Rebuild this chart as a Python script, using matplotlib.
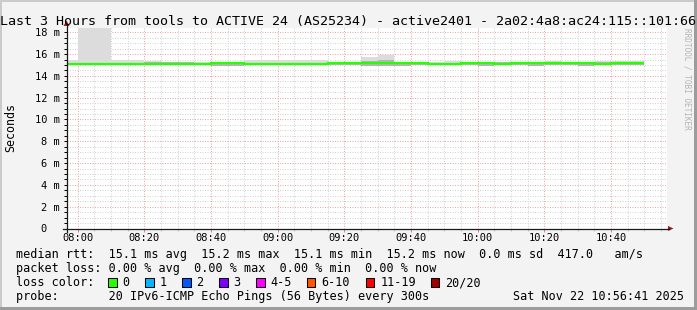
import matplotlib
matplotlib.use("Agg")
import matplotlib.pyplot as plt
from matplotlib.patches import Rectangle, Polygon
from matplotlib.lines import Line2D
import numpy as np

# ---------------- data ----------------
title = "Last 3 Hours from tools to ACTIVE 24 (AS25234) - active2401 - 2a02:4a8:ac24:115::101:66"
watermark = "RRDTOOL / TOBI OETIKER"
y_label = "Seconds"

window_start_min = 7 * 60 + 56 + 41 / 60   # 07:56:41
window_end_min = 10 * 60 + 56 + 41 / 60    # 10:56:41
first_step_start_min = 7 * 60 + 55         # 07:55
step_min = 5

median_ms = [15.07, 15.07, 15.07, 15.07, 15.07, 15.07, 15.07, 15.07, 15.07,
             15.16, 15.16,
             15.07, 15.07, 15.07, 15.07, 15.07,
             15.16, 15.16, 15.16, 15.16, 15.16, 15.16,
             15.07, 15.07,
             15.16, 15.16,
             15.10,
             15.16, 15.16, 15.16, 15.16, 15.16,
             15.07,
             15.16, 15.16]
smoke_lo_ms = [14.98, 14.98, 14.98, 14.98, 14.98, 14.98, 14.98, 14.98, 14.98,
               14.92, 14.92,
               14.98, 14.98, 14.98, 14.98, 14.98,
               14.98, 14.98, 14.92, 14.92, 14.92, 14.98,
               14.98, 14.98,
               14.98, 14.94,
               14.96,
               14.98, 14.94, 14.98, 14.98, 14.94,
               14.98,
               14.98, 14.98]
smoke_hi_ms = [15.50, 18.60, 18.60, 15.45, 15.45, 15.35, 15.30, 15.30, 15.28,
               15.25, 15.25,
               15.45, 15.45, 15.45, 15.47, 15.47,
               15.22, 15.22, 15.72, 15.93, 15.30, 15.22,
               15.25, 15.35,
               15.22, 15.22,
               15.32,
               15.22, 15.22, 15.38, 15.22, 15.22,
               15.38,
               15.35, 15.35]
smoke_core_ms = [15.15, 15.15, 15.15, 15.15, 15.15, 15.26, 15.26, 15.26, 15.15,
                 15.22, 15.22,
                 15.15, 15.15, 15.15, 15.15, 15.15,
                 15.22, 15.22, 15.40, 15.42, 15.22, 15.22,
                 15.15, 15.15,
                 15.22, 15.22,
                 15.30,
                 15.22, 15.22, 15.22, 15.22, 15.22,
                 15.25,
                 15.22, 15.22]

x_tick_minutes = [480, 500, 520, 540, 560, 580, 600, 620, 640]
x_tick_labels = ["08:00", "08:20", "08:40", "09:00", "09:20", "09:40", "10:00", "10:20", "10:40"]
y_tick_values = [2, 4, 6, 8, 10, 12, 14, 16, 18]
y_tick_labels = ["2 m", "4 m", "6 m", "8 m", "10 m", "12 m", "14 m", "16 m", "18 m"]
y_max_ms = 18.44

stat_rows = [
    "median rtt:  15.1 ms avg  15.2 ms max  15.1 ms min  15.2 ms now  0.0 ms sd  417.0   am/s",
    "packet loss: 0.00 % avg  0.00 % max  0.00 % min  0.00 % now",
    "loss color:",
    "probe:       20 IPv6-ICMP Echo Pings (56 Bytes) every 300s",
]
loss_labels = ["0", "1", "2", "3", "4-5", "6-10", "11-19", "20/20"]
loss_colors = ["#26ff00", "#00b8ff", "#0059ff", "#7e00ff", "#ff00ff", "#ff5500", "#ff0000", "#a00000"]
date_text = "Sat Nov 22 10:56:41 2025"

# ---------------- layout helpers ----------------
W, H = 697, 310
MONO = "DejaVu Sans Mono"


def fx(px):
    return px / W


def fy(py):
    return 1 - py / H


fig = plt.figure(figsize=(W / 100, H / 100), dpi=100, facecolor="#f3f3f3")

ax_left, ax_right, ax_top, ax_bottom = 66.5, 666.5, 27.5, 228.5
ax = fig.add_axes([fx(ax_left), fy(ax_bottom), fx(ax_right - ax_left), (ax_bottom - ax_top) / H])
ax.set_facecolor("white")
for s in ax.spines.values():
    s.set_visible(False)

edges = first_step_start_min + step_min * np.arange(len(median_ms) + 1)

ax.stairs(smoke_hi_ms, edges, baseline=smoke_lo_ms, fill=True, color="#dcdcdc", lw=0, zorder=2)
ax.stairs(smoke_core_ms, edges, baseline=smoke_lo_ms, fill=True, color="#b4b4b4", lw=0, zorder=2.1)
ax.stairs(median_ms, edges, baseline=None, color="#26ff00", lw=1.6, zorder=3)

ax.set_xlim(window_start_min, window_end_min)
ax.set_ylim(0, y_max_ms)

# grid
ax.set_xticks(x_tick_minutes)
ax.set_xticklabels(x_tick_labels, family=MONO, fontsize=7.5)
ax.set_xticks(np.arange(485, 660, 5), minor=True)
ax.set_yticks(y_tick_values)
ax.set_yticklabels(y_tick_labels, family=MONO, fontsize=7.5)
ax.set_yticks(np.arange(0.5, 18.5, 0.5), minor=True)

dot = (0, (1, 1.5))
ax.grid(which="minor", color="#d2d2d2", ls=dot, lw=0.72, zorder=1)
ax.grid(which="major", color="#eda6a6", ls=dot, lw=0.72, zorder=1.1)
ax.set_axisbelow(True)

ax.tick_params(axis="y", which="both", direction="out", length=2.2, width=0.72, color="black", pad=2.5)
ax.tick_params(axis="x", which="major", direction="out", length=2.2, width=0.72, color="#e08080", pad=1.2)
ax.tick_params(axis="x", which="minor", direction="out", length=1.5, width=0.72, color="#c4c4c4")

ax.annotate("0", xy=(0, 0), xycoords=("axes fraction", "data"), xytext=(-14, 0),
            textcoords="offset points", ha="right", va="center", family=MONO, fontsize=7.5,
            annotation_clip=False)

# axes lines and arrows (figure pixel space)
axis_col = "#1a1a1a"
arrow_col = "#9b1c1c"
fig.add_artist(Line2D([fx(66.5), fx(66.5)], [fy(231.5), fy(25)], color=axis_col, lw=0.9))
fig.add_artist(Line2D([fx(63), fx(669)], [fy(228.5), fy(228.5)], color=axis_col, lw=0.9))
fig.add_artist(Polygon([(fx(63.5), fy(26)), (fx(69.5), fy(26)), (fx(66.5), fy(20.5))],
                       closed=True, color=arrow_col, lw=0))
fig.add_artist(Polygon([(fx(668), fy(226)), (fx(668), fy(231)), (fx(673.5), fy(228.5))],
                       closed=True, color=arrow_col, lw=0))

# frame shading
fig.add_artist(Rectangle((0, fy(2)), 1, 2 / H, transform=fig.transFigure, color="#cbcbcb", lw=0))
fig.add_artist(Rectangle((0, 0), 2 / W, 1, transform=fig.transFigure, color="#cbcbcb", lw=0))
fig.add_artist(Rectangle((0, 0), 1, 3 / H, transform=fig.transFigure, color="#9c9c9c", lw=0))
fig.add_artist(Rectangle((fx(694), 0), 3 / W, 1, transform=fig.transFigure, color="#9c9c9c", lw=0))

# watermark (kept just below the title), title, y label
fig.text(fx(687), fy(28), watermark, rotation=270, ha="center", va="top",
         family=MONO, fontsize=5.6, color="#b4b4b4")
fig.text(fx(348.5), fy(24.5), title, ha="center", va="baseline", family=MONO, fontsize=9.6, color="black")
fig.text(fx(10.7), fy(127.5), y_label, rotation=90, ha="center", va="center", family=MONO, fontsize=8.4)

# legend rows
row_baselines = [258.3, 272.2, 286.1, 300.0]
for txt, yb in zip(stat_rows, row_baselines):
    fig.text(fx(16), fy(yb), txt, ha="left", va="baseline", family=MONO, fontsize=8.5)
fig.text(fx(513), fy(row_baselines[3]), date_text, ha="left", va="baseline", family=MONO, fontsize=8.5)

box_lefts = [108.3, 145.3, 182.3, 219.3, 256.3, 306.7, 366.0, 430.7]
for lab, col, bx in zip(loss_labels, loss_colors, box_lefts):
    fig.add_artist(Rectangle((fx(bx), fy(286.5)), 8.3 / W, 8.3 / H, transform=fig.transFigure,
                             facecolor=col, edgecolor="black", lw=0.75))
    fig.text(fx(bx + 14.2), fy(row_baselines[2]), lab, ha="left", va="baseline", family=MONO, fontsize=8.5)

fig.savefig("out.png", dpi=100, facecolor=fig.get_facecolor())
